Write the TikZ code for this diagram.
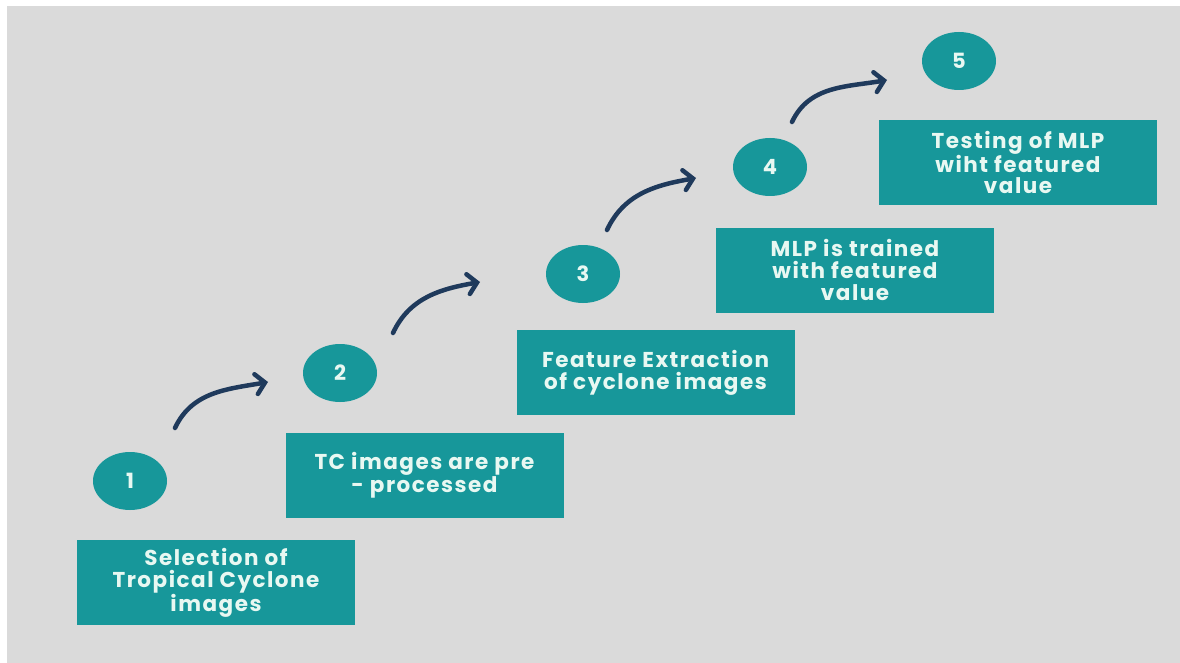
\documentclass[tikz,border=0pt]{standalone}
\usepackage{fontspec}
\setmainfont{Poppins}
\newfontfamily\stepfont{Poppins}[LetterSpace=7]
\usetikzlibrary{arrows.meta,shapes.geometric}
\definecolor{bggray}{HTML}{DADADA}
\definecolor{teal1}{HTML}{17979A}
\definecolor{navy}{HTML}{1F3A5C}
\definecolor{mint}{HTML}{E8F8F2}
\tikzset{
  stepbox/.style={rectangle, fill=teal1, draw=none, minimum width=278pt, minimum height=85pt,
    text=mint, align=center, font=\stepfont\fontsize{21.5}{21.8}\selectfont\bfseries, inner sep=0pt},
  numdisc/.style={ellipse, fill=teal1, draw=none, minimum width=74pt, minimum height=58pt,
    text=mint, font=\fontsize{21}{21}\selectfont\bfseries, inner sep=0pt},
  flowarrow/.style={draw=navy, line width=4.5pt, line cap=round,
    -{Straight Barb[length=9pt,width=20pt,line cap=round]}},
}
\begin{document}
\begin{tikzpicture}[x=1pt,y=-1pt]
\useasboundingbox (0,0) rectangle (1180,663);
\fill[white] (0,0) rectangle (1180,663);
\fill[bggray] (7,6) rectangle (1180,663);

\node[stepbox] (b1) at (216,582.5) {Selection of\\Tropical Cyclone\\images};
\node[stepbox] (b2) at (424.5,475) {TC images are pre\\- processed};
\node[stepbox] (b3) at (655.5,372.5) {Feature Extraction\\of cyclone images};
\node[stepbox] (b4) at (855,270) {MLP is trained\\with featured\\value};
\node[stepbox] (b5) at (1018,162.5) {Testing of MLP\\wiht featured\\value};

\node[numdisc] (c1) at (130,481) {1};
\node[numdisc] (c2) at (340,373) {2};
\node[numdisc] (c3) at (583,274) {3};
\node[numdisc] (c4) at (770,167) {4};
\node[numdisc] (c5) at (959,61) {5};

\coordinate (s1) at (175,428); \coordinate (e1) at (268,382);
\coordinate (s2) at (393,333); \coordinate (e2) at (480,282);
\coordinate (s3) at (607,230); \coordinate (e3) at (696,178);
\coordinate (s4) at (792,122); \coordinate (e4) at (887,80);

\draw[flowarrow] (s1) to[out=65,in=190] (e1);
\draw[flowarrow] (s2) to[out=65,in=190] (e2);
\draw[flowarrow] (s3) to[out=65,in=190] (e3);
\draw[flowarrow] (s4) to[out=65,in=190] (e4);
\end{tikzpicture}
\end{document}
